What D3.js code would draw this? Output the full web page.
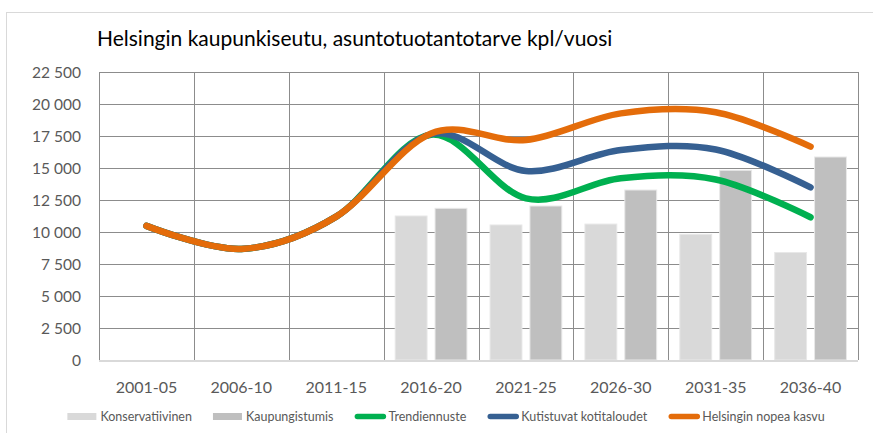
<!DOCTYPE html>
<html>
<head>
<meta charset="utf-8">
<script src="https://cdn.jsdelivr.net/npm/d3@7"></script>
<style>
  body { margin: 0; background: #fff; }
  text { font-family: Lato, "Open Sans", sans-serif; }
</style>
</head>
<body>
<div id="chart"></div>
<script>
// data
const categories = ['2001-05', '2006-10', '2011-15', '2016-20', '2021-25', '2026-30', '2031-35', '2036-40'];
const yTicks = [0, 2500, 5000, 7500, 10000, 12500, 15000, 17500, 20000, 22500];

const konservatiivinen = [null, null, null, 11250, 10550, 10620, 9820, 8400];
const kaupungistumis = [null, null, null, 11850, 12030, 13280, 14820, 15860];

const trendiennuste = [10480, 8680, 11200, 17600, 12630, 14200, 14100, 11150];
const kutistuvat = [10480, 8680, 11200, 17650, 14770, 16400, 16450, 13490];
const nopeaKasvu = [10480, 8680, 11200, 17700, 17190, 19270, 19350, 16670];

const barSeries = [
  {name: 'Konservatiivinen', values: konservatiivinen, color: '#d9d9d9'},
  {name: 'Kaupungistumis', values: kaupungistumis, color: '#bfbfbf'}
];
const lineSeries = [
  {name: 'Trendiennuste', values: trendiennuste, color: '#00b050'},
  {name: 'Kutistuvat kotitaloudet', values: kutistuvat, color: '#366092'},
  {name: 'Helsingin nopea kasvu', values: nopeaKasvu, color: '#e46c0a'}
];

let width = 873, height = 433;
let margin = {top: 72, bottom: 72, left: 99, right: 15};

let svg = d3.select('#chart')
  .append('svg')
  .attr('width', width)
  .attr('height', height);

// outer chart border
svg.append('rect')
  .attr('x', 6.5).attr('y', 12.5)
  .attr('width', 900).attr('height', 500)
  .attr('fill', 'none')
  .attr('stroke', '#d9d9d9');

// title
svg.append('text')
  .attr('x', 97).attr('y', 46)
  .attr('font-size', 21)
  .attr('fill', '#000')
  .text('Helsingin kaupunkiseutu, asuntotuotantotarve kpl/vuosi');

// scales
let xScale = d3.scaleBand()
  .domain(categories)
  .range([margin.left, width - margin.right])
  .padding(0);

let yScale = d3.scaleLinear()
  .domain([0, 22500])
  .range([height - margin.bottom - 1, margin.top]);

let xInner = d3.scaleBand()
  .domain(barSeries.map(d => d.name))
  .range([0, xScale.bandwidth()])
  .paddingInner(0.2)
  .paddingOuter(0.29);

// horizontal gridlines
svg.append('g')
  .selectAll('line')
  .data(yTicks.filter(d => d > 0))
  .enter().append('line')
  .attr('x1', margin.left).attr('x2', width - margin.right)
  .attr('y1', d => Math.round(yScale(d)) + 0.5)
  .attr('y2', d => Math.round(yScale(d)) + 0.5)
  .attr('stroke', '#8c8c8c');

// vertical gridlines (category boundaries)
let bounds = categories.map(c => xScale(c)).concat([xScale.range()[1]]);
svg.append('g')
  .selectAll('line')
  .data(bounds)
  .enter().append('line')
  .attr('x1', d => Math.round(d) + 0.5).attr('x2', d => Math.round(d) + 0.5)
  .attr('y1', margin.top).attr('y2', yScale(0))
  .attr('stroke', '#8c8c8c');

// bars
barSeries.forEach(s => {
  svg.append('g')
    .selectAll('rect')
    .data(categories.map((c, i) => ({c: c, v: s.values[i]})).filter(d => d.v != null))
    .enter().append('rect')
    .attr('x', d => xScale(d.c) + xInner(s.name))
    .attr('y', d => yScale(d.v))
    .attr('width', xInner.bandwidth())
    .attr('height', d => yScale(0) - yScale(d.v))
    .attr('fill', s.color)
    .attr('stroke', '#e8e8e8')
    .attr('stroke-width', 1);
});

// bottom axis line
svg.append('line')
  .attr('x1', margin.left).attr('x2', width - margin.right)
  .attr('y1', yScale(0) + 1).attr('y2', yScale(0) + 1)
  .attr('stroke', '#d9d9d9')
  .attr('stroke-width', 2);

// smoothed lines like Excel
let line = d3.line()
  .x((d, i) => xScale(categories[i]) + xScale.bandwidth() / 2)
  .y(d => yScale(d))
  .curve(d3.curveCardinal.tension(0));

lineSeries.forEach(s => {
  svg.append('path')
    .attr('d', line(s.values))
    .attr('fill', 'none')
    .attr('stroke', s.color)
    .attr('stroke-width', 6.5)
    .attr('stroke-linecap', 'round')
    .attr('stroke-linejoin', 'round');
});

// y axis labels
let fmt = d => d3.format(',')(d).replace(/,/g, ' ');
svg.append('g')
  .selectAll('text')
  .data(yTicks)
  .enter().append('text')
  .attr('x', 81)
  .attr('y', d => yScale(d) + 6)
  .attr('text-anchor', 'end')
  .attr('font-size', 15.5)
  .attr('fill', '#595959')
  .text(fmt);

// x axis labels
svg.append('g')
  .selectAll('text')
  .data(categories)
  .enter().append('text')
  .attr('x', d => xScale(d) + xScale.bandwidth() / 2)
  .attr('y', 393)
  .attr('text-anchor', 'middle')
  .attr('font-size', 16)
  .attr('fill', '#595959')
  .text(d => d);

// legend
const legendItems = barSeries.map(d => ({name: d.name, color: d.color, type: 'bar'}))
  .concat(lineSeries.map(d => ({name: d.name, color: d.color, type: 'line'})));

let legend = svg.append('g');
let lx = 0;
legendItems.forEach(item => {
  let g = legend.append('g').attr('transform', `translate(${lx},0)`);
  if (item.type === 'bar') {
    g.append('rect')
      .attr('x', 0).attr('y', 413)
      .attr('width', 29).attr('height', 7)
      .attr('fill', item.color);
  } else {
    g.append('line')
      .attr('x1', 3).attr('x2', 29)
      .attr('y1', 416.5).attr('y2', 416.5)
      .attr('stroke', item.color)
      .attr('stroke-width', 5.5)
      .attr('stroke-linecap', 'round');
  }
  let t = g.append('text')
    .attr('x', item.type === 'bar' ? 33 : 34)
    .attr('y', 421)
    .attr('font-size', 12.5)
    .attr('fill', '#595959')
    .text(item.name);
  lx += (item.type === 'bar' ? 33 : 34) + t.node().getComputedTextLength() + 21;
});
let legendWidth = lx - 21;
legend.attr('transform', `translate(${446 - legendWidth / 2},0)`);
</script>
</body>
</html>
